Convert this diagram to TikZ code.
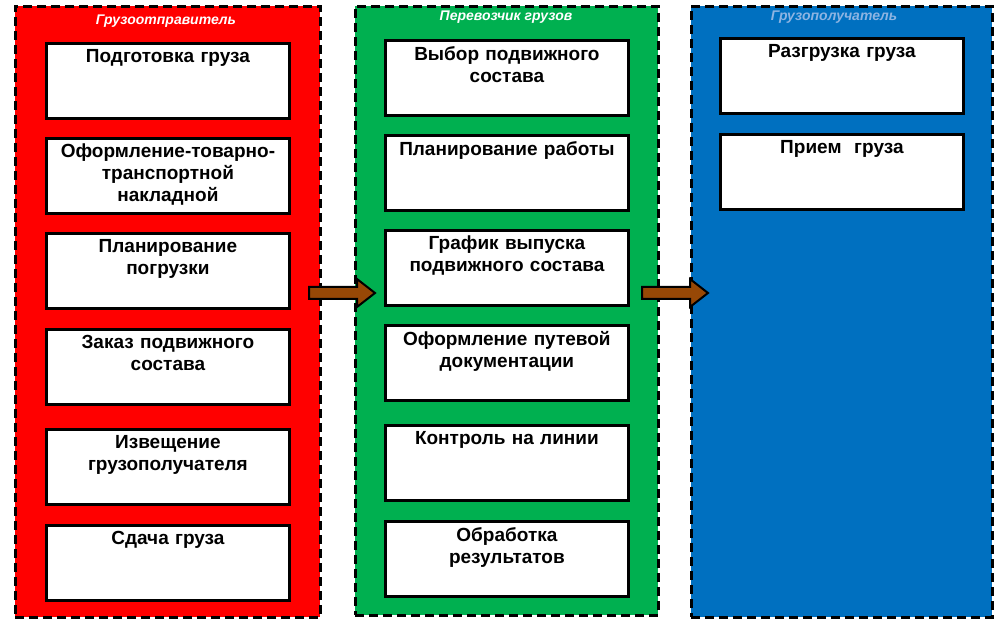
\documentclass[tikz,border=0pt]{standalone}
\usepackage{fontspec}
\setmainfont{Liberation Sans}
\definecolor{cred}{HTML}{FF0000}
\definecolor{cgreen}{HTML}{00B050}
\definecolor{cblue}{HTML}{0070C0}
\definecolor{cbrown}{HTML}{974806}
\definecolor{lblue}{HTML}{8DB4E2}
\begin{document}
\begin{tikzpicture}[x=1pt,y=-1pt,
 col/.style={draw=black,line width=2.8pt,dash pattern=on 9pt off 5pt,inner sep=0pt,anchor=north west},
 stepbox/.style={draw=black,line width=2.8pt,fill=white,anchor=north west,minimum width=243pt,minimum height=75pt,inner sep=0pt},
 lbl/.style={anchor=north,font=\bfseries\fontsize{19}{22}\selectfont,align=center,text width=240pt,inner sep=0pt},
 hdr/.style={anchor=north,font=\bfseries\itshape\fontsize{14}{16}\selectfont,inner sep=0pt},
 arr/.style={draw=black,line width=2pt,fill=cbrown,line join=miter}]
\useasboundingbox (0,0) rectangle (996,620);
\node[col,fill=cred,minimum width=305pt,minimum height=611pt] (c1) at (14,5) {};
\node[col,fill=cgreen,minimum width=303pt,minimum height=609pt] (c2) at (354,5) {};
\node[col,fill=cblue,minimum width=301pt,minimum height=611pt] (c3) at (690,5) {};
\node[hdr,text=white] (h1) at (166,15) {Грузоотправитель};
\node[hdr,text=white] (h2) at (506,11) {Перевозчик грузов};
\node[hdr,text=lblue] (h3) at (834,11) {Грузополучатель};
\foreach \n/\y/\t in {a1/42/{Подготовка груза},a2/137/{Оформление-товарно-\\транспортной\\накладной},a3/232/{Планирование\\погрузки},a4/328/{Заказ подвижного\\состава},a5/428/{Извещение\\грузополучателя},a6/524/{Сдача груза}}{
 \node[stepbox] (\n) at (45,\y) {};
 \node[lbl] at ([yshift=-7pt]\n.north) {\t};
}
\foreach \n/\y/\t in {b1/39/{Выбор подвижного\\состава},b2/134/{Планирование работы},b3/229/{График выпуска\\подвижного состава},b4/324/{Оформление путевой\\документации},b5/424/{Контроль на линии},b6/520/{Обработка\\результатов}}{
 \node[stepbox] (\n) at (384,\y) {};
 \node[lbl] at ([yshift=-7pt]\n.north) {\t};
}
\foreach \n/\y/\t in {d1/37/{Разгрузка груза},d2/133/{Прием\ \ груза}}{
 \node[stepbox] (\n) at (719,\y) {};
 \node[lbl] at ([yshift=-7pt]\n.north) {\t};
}
\coordinate (r1) at (309,293);
\coordinate (r2) at (642,293);
\foreach \r in {r1,r2}{
 \draw[arr] ([yshift=6pt]\r) -- ++(48,0) -- ++(0,-8) -- ++(18,14) -- ++(-18,14) -- ++(0,-8) -- ++(-48,0) -- cycle;
}
\end{tikzpicture}
\end{document}
